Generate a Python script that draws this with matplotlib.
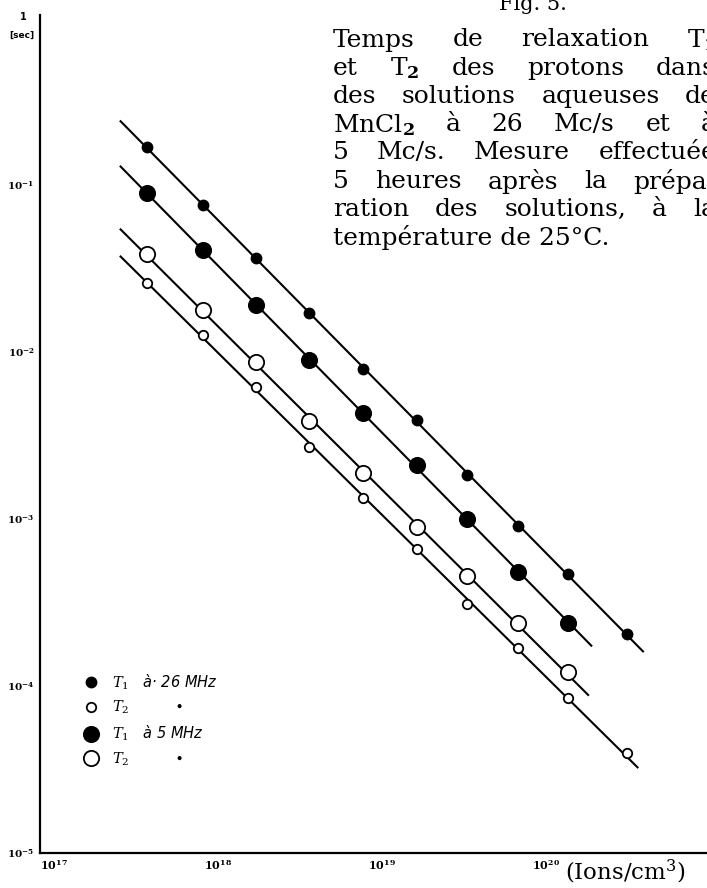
import numpy as np
import matplotlib
matplotlib.use("Agg")
import matplotlib.pyplot as plt

W, H = 707, 888

# concentration (ions/cm3) of the measured solutions
conc = [4.48e17, 9.9e17, 2.07e18, 4.39e18, 9.35e18, 1.98e19, 4.04e19, 8.18e19, 1.66e20, 3.78e20]

# relaxation times in seconds
t1_26 = [0.169, 0.0759, 0.0364, 0.0171, 0.00787, 0.00392, 0.00183, 0.000912, 0.000469, 0.000205]
t2_26 = [0.026, 0.0126, 0.00615, 0.00271, 0.00134, 0.000659, 0.00031, 0.000168, 8.43e-5, 3.95e-5]
t1_5 = [0.0891, 0.0408, 0.0191, 0.00895, 0.0043, 0.0021, 0.000995, 0.000483, 0.00024]
t2_5 = [0.0386, 0.0178, 0.00867, 0.00386, 0.00189, 0.0009, 0.000457, 0.000237, 0.000121]

# extent of the drawn straight lines
line_start = 3.1e17
line_end = {"t1_26": 4.75e20, "t2_26": 4.4e20, "t1_5": 2.3e20, "t2_5": 2.2e20}

xticks = [1e17, 1e18, 1e19, 1e20]
xticklabels = [r"$\mathbf{10^{17}}$", r"$\mathbf{10^{18}}$", r"$\mathbf{10^{19}}$", r"$\mathbf{10^{20}}$"]
yticks = [1e-5, 1e-4, 1e-3, 1e-2, 1e-1]
yticklabels = [r"$\mathbf{10^{-5}}$", r"$\mathbf{10^{-4}}$", r"$\mathbf{10^{-3}}$", r"$\mathbf{10^{-2}}$", r"$\mathbf{10^{-1}}$"]

caption = [
    "Temps de relaxation T$_\\mathbf{1}$",
    "et T$_\\mathbf{2}$ des protons dans",
    "des solutions aqueuses de",
    "MnCl$_\\mathbf{2}$ à 26 Mc/s et à",
    "5 Mc/s. Mesure effectuée",
    "5 heures après la prépa-",
    "ration des solutions, à la",
    "température de 25°C.",
]

plt.rcParams["mathtext.fontset"] = "dejavuserif"

fig = plt.figure(figsize=(W / 100, H / 100), dpi=100)
ax = fig.add_axes([40 / W, 35 / H, 667 / W, 838 / H])
ax.set_xscale("log")
ax.set_yscale("log")
ax.set_xlim(1e17, 10 ** 21.067)
ax.set_ylim(1e-5, 10 ** 0.018)

series = [
    ("t1_26", t1_26, 7.2, "black", r"$T_1$   à· 26 MHz"),
    ("t2_26", t2_26, 6.8, "white", r"$T_2$          $\bullet$"),
    ("t1_5", t1_5, 11, "black", r"$T_1$   à 5 MHz"),
    ("t2_5", t2_5, 11, "white", r"$T_2$          $\bullet$"),
]

for key, vals, ms, fc, lab in series:
    x = np.array(conc[:len(vals)])
    y = np.array(vals)
    k, b = np.polyfit(np.log10(x), np.log10(y), 1)
    xl = np.array([line_start, line_end[key]])
    ax.plot(xl, 10 ** (k * np.log10(xl) + b), color="black", lw=1.5, zorder=2)
    ax.plot(x, y, linestyle="none", marker="o", ms=ms, mfc=fc, mec="black",
            mew=1.3, zorder=3, label=lab)

for s in ["top", "right"]:
    ax.spines[s].set_visible(False)
for s in ["left", "bottom"]:
    ax.spines[s].set_linewidth(1.6)

ax.minorticks_off()
ax.set_xticks(xticks)
ax.set_xticklabels(xticklabels, fontsize=8, ha="left")
ax.set_yticks(yticks)
ax.set_yticklabels(yticklabels, fontsize=7.5)
ax.tick_params(length=0, pad=4)

ax.legend(loc="center left", bbox_to_anchor=(76 / W, (H - 720) / H),
          bbox_transform=fig.transFigure, frameon=False, borderpad=0,
          handlelength=1.0, handletextpad=1.0, labelspacing=0.5,
          prop={"style": "italic", "size": 10.5})

fig.text(23 / W, 1 - 17 / H, "1", fontsize=7, fontweight="bold", ha="center", va="center")
fig.text(22 / W, 1 - 35 / H, "[sec]", fontsize=6.5, fontweight="bold", ha="center", va="center")
fig.text(533 / W, 1 - 4 / H, "Fig. 5.", fontsize=15, family="DejaVu Serif", ha="center", va="center")
fig.text(565 / W, 1 - 872 / H, "(Ions/cm$^3$)", fontsize=16.5, family="DejaVu Serif", ha="left", va="center")

# justified caption block
fig.canvas.draw()
r = fig.canvas.get_renderer()
x0, x1 = 333, 716
fs = 18
for i, line in enumerate(caption):
    yy = 1 - (40 + i * 28.2) / H
    if i == len(caption) - 1:
        fig.text(x0 / W, yy, line, fontsize=fs, family="DejaVu Serif", va="center")
        continue
    words = line.split(" ")
    texts = [fig.text(0, yy, w, fontsize=fs, family="DejaVu Serif", va="center") for w in words]
    widths = [t.get_window_extent(r).width for t in texts]
    gap = (x1 - x0 - sum(widths)) / (len(words) - 1)
    x = x0
    for t, w in zip(texts, widths):
        t.set_x(x / W)
        x += w + gap

fig.savefig("out.png", dpi=100, facecolor="white")
